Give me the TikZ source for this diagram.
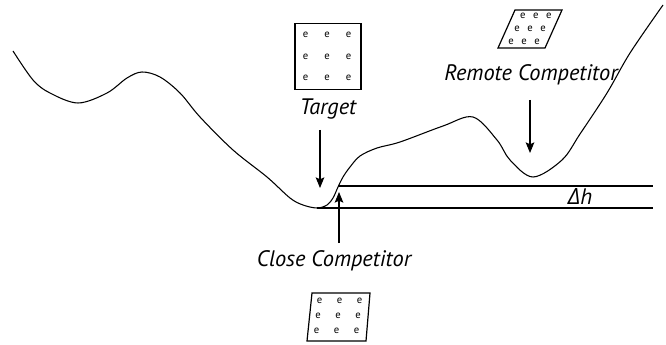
\documentclass[tikz,border=0pt]{standalone}
\usepackage{fontspec}
\setmainfont{PT Sans}
\newfontfamily\greekfont{Open Sans}
\usetikzlibrary{arrows.meta, positioning}
\tikzstyle{statename} = [font=\fontsize{16.8}{20}\selectfont\itshape, inner sep=0pt]
\tikzstyle{electron} = [font=\fontsize{8}{9}\selectfont, inner sep=0pt]
\tikzstyle{cell} = [draw=black, line width=0.9pt]
\tikzstyle{landscape} = [draw=black, line width=0.8pt]
\tikzstyle{pointer} = [-{Stealth[length=8pt, width=6.5pt, inset=1.5pt]}, line width=0.8pt]

\begin{document}
\begin{tikzpicture}[x=0.75pt, y=-0.75pt]
\useasboundingbox (0,0) rectangle (666,345);

% energy landscape
\draw [landscape] plot[smooth, tension=0.55] coordinates {(13,51) (33,80) (50,93) (78,103) (107,93) (127,78) (142,72) (160,77) (180,93) (200,117) (233,150) (267,177) (290,198) (303,205) (317,208) (327,205) (333,198) (338,187) (343,177) (350,167) (360,156) (377,148) (400,142) (443,126) (473,117) (497,140) (510,160) (533,177) (562,160) (580,134) (607,93) (630,53) (663,5)};
\coordinate (tgtTip) at (320,188);
\coordinate (tgtTail) at (320,130);
\coordinate (closeTip) at (339,192);
\coordinate (closeTail) at (339,243);
\coordinate (remoteTip) at (530,153);
\coordinate (remoteTail) at (530,100);
\coordinate (upperStart) at (338,186);
\coordinate (upperEnd) at (653,186);
\coordinate (lowerStart) at (317,208);
\coordinate (lowerEnd) at (653,208);
\draw [landscape] (upperStart) -- (upperEnd);
\draw [landscape] (lowerStart) -- (lowerEnd);
\node (dh) [statename] at (580,197) {{\greekfont\itshape Δ}h};

% target
\node (targetcell) [cell, minimum size=49.5pt, inner sep=0pt] at (328,56.5) {};
\foreach \i in {-21.5,0,21.5} {
  \foreach \j in {-21.5,0,21.5} {
    \node [electron] at (327+\i,56.5+\j) {e};
  }
}
\node (target) [statename, below=6pt of targetcell] {Target};
\draw [pointer] (tgtTail) -- (tgtTip);

% remote competitor
\draw [cell] (498,48) -- (545,48) -- (562,10) -- (515,10) -- cycle;
\foreach \i in {-13,0,13} {
  \foreach \j in {-13,0,13} {
    \node [electron] at (530+\i-0.45*\j,29+\j) {e};
  }
}
\node (remote) [statename] at (531,75) {Remote Competitor};
\draw [pointer] (remoteTail) -- (remoteTip);

% close competitor
\node (close) [statename] at (334,261) {Close Competitor};
\draw [pointer] (closeTail) -- (closeTip);
\draw [cell] (307,341) -- (366,341) -- (370,293) -- (312,293) -- cycle;
\foreach \i in {-20,0,20} {
  \foreach \j in {-15,0,15} {
    \node [electron] at (338+\i-0.1*\j,316+\j) {e};
  }
}
\end{tikzpicture}
\end{document}
